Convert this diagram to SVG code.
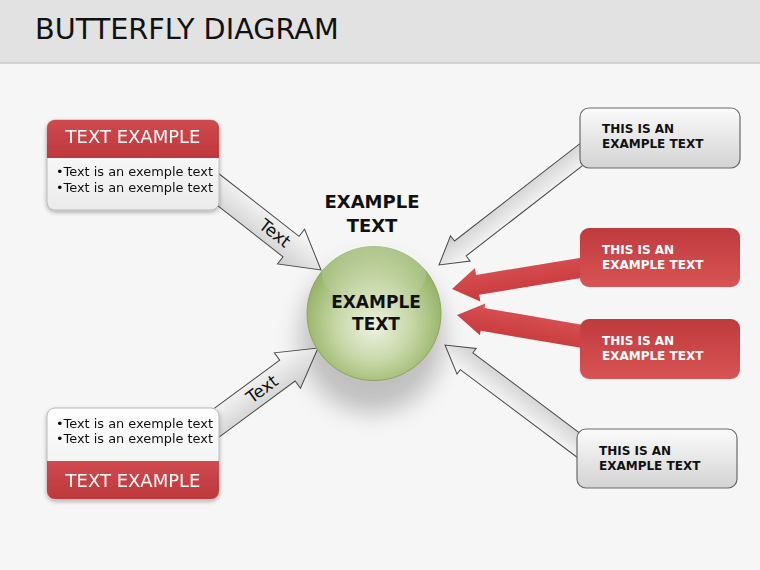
<svg xmlns="http://www.w3.org/2000/svg" width="760" height="570" viewBox="0 0 760 570">
  <defs>
    <linearGradient id="grayArrow" x1="0" y1="0" x2="0" y2="1">
      <stop offset="0" stop-color="#fbfbfb"/>
      <stop offset="1" stop-color="#cdcdcd"/>
    </linearGradient>
    <linearGradient id="redArrow" x1="0" y1="0" x2="0" y2="1">
      <stop offset="0" stop-color="#c8393c"/>
      <stop offset="1" stop-color="#d85253"/>
    </linearGradient>
    <linearGradient id="grayBox" x1="0" y1="0" x2="0" y2="1">
      <stop offset="0" stop-color="#fbfbfb"/>
      <stop offset="1" stop-color="#d3d3d3"/>
    </linearGradient>
    <linearGradient id="redBox" x1="0" y1="0" x2="0" y2="1">
      <stop offset="0" stop-color="#bf3a3d"/>
      <stop offset="1" stop-color="#d85454"/>
    </linearGradient>
    <linearGradient id="redHead" x1="0" y1="0" x2="0" y2="1">
      <stop offset="0" stop-color="#cf4a4e"/>
      <stop offset="1" stop-color="#bd383b"/>
    </linearGradient>
    <linearGradient id="whiteBody" x1="0" y1="0" x2="0" y2="1">
      <stop offset="0" stop-color="#ffffff"/>
      <stop offset="1" stop-color="#ebebeb"/>
    </linearGradient>
    <radialGradient id="ball" cx="0.5" cy="0.56" r="0.55" fx="0.5" fy="0.6">
      <stop offset="0" stop-color="#edf2e1"/>
      <stop offset="0.5" stop-color="#c8d8a8"/>
      <stop offset="1" stop-color="#92b062"/>
    </radialGradient>
    <linearGradient id="ballHi" x1="0" y1="0" x2="0" y2="1">
      <stop offset="0" stop-color="#ffffff" stop-opacity="0.3"/>
      <stop offset="1" stop-color="#ffffff" stop-opacity="0"/>
    </linearGradient>
    <filter id="blurBig" x="-50%" y="-50%" width="200%" height="200%">
      <feGaussianBlur stdDeviation="12"/>
    </filter>
    <filter id="soft" x="-10%" y="-10%" width="120%" height="130%">
      <feGaussianBlur in="SourceAlpha" stdDeviation="2"/>
      <feOffset dy="2" result="b"/>
      <feComponentTransfer><feFuncA type="linear" slope="0.3"/></feComponentTransfer>
      <feMerge><feMergeNode/><feMergeNode in="SourceGraphic"/></feMerge>
    </filter>
  </defs>
  <style>
    .garrow { fill: url(#grayArrow); stroke: #4a4a4a; stroke-width: 1; stroke-linejoin: miter; }
    .rarrow { fill: url(#redArrow); }
    .gbox { fill: url(#grayBox); stroke: #6a6a6a; stroke-width: 1.2; }
    .rbox { fill: url(#redBox); }
    .rtxt { font-family: "DejaVu Sans", Verdana, sans-serif; font-weight: bold; font-size: 12px; }
    .btxt { font-family: "DejaVu Sans", Verdana, sans-serif; font-size: 12.9px; fill: #111; }
    .htxt { font-family: "DejaVu Sans", Verdana, sans-serif; font-size: 18px; fill: #ffffff; text-anchor: middle; }
    .ctxt { font-family: "DejaVu Sans", Verdana, sans-serif; font-weight: bold; fill: #111; text-anchor: middle; }
    .atxt { font-family: "DejaVu Sans", Verdana, sans-serif; font-size: 17px; fill: #111; text-anchor: middle; }
  </style>

  <rect x="0" y="0" width="760" height="570" fill="#f6f6f6"/>

  <g id="header">
    <rect x="0" y="0" width="760" height="62" fill="#e2e2e2"/>
    <rect x="0" y="62" width="760" height="2" fill="#d2d2d2"/>
    <text x="35" y="39" font-family="'DejaVu Sans', Verdana, sans-serif" font-size="28.7" fill="#111">BUTTERFLY DIAGRAM</text>
  </g>

  <ellipse cx="372" cy="337" rx="72" ry="76" fill="#000" opacity="0.22" filter="url(#blurBig)"/>

  <g id="connectors">
    <polygon class="garrow" points="-145,-13 -38,-13 -38,-22 0,0 -38,22 -38,13 -145,13" transform="translate(321,270) rotate(38)"/>
    <polygon class="garrow" points="-140,-13 -38,-13 -38,-22 0,0 -38,22 -38,13 -140,13" transform="translate(318,348) rotate(-36.4)"/>
    <polygon class="garrow" points="-191,-9.5 -27,-9.5 -27,-16 0,0 -27,16 -27,9.5 -191,9.5" transform="translate(439,265) rotate(142.2)"/>
    <polygon class="garrow" points="-178,-10.5 -27,-10.5 -27,-16 0,0 -27,16 -27,10.5 -178,10.5" transform="translate(445,345) rotate(-143.1)"/>
    <polygon class="rarrow" points="-140,-10 -26,-10 -26,-17 0,0 -26,17 -26,10 -140,10" transform="translate(452,289) rotate(170.7)"/>
    <polygon class="rarrow" points="-135,-11.5 -26,-11.5 -26,-16 0,0 -26,16 -26,11.5 -135,11.5" transform="translate(457,315) rotate(-170.3)"/>
    <text class="atxt" transform="translate(275,233) rotate(38)" y="6">Text</text>
    <text class="atxt" transform="translate(262,389) rotate(-36.4)" y="6">Text</text>
  </g>

  <g id="node-center">
    <circle cx="374" cy="313.5" r="67" fill="url(#ball)" stroke="#8aa85a" stroke-width="1"/>
    <ellipse cx="374" cy="275" rx="52" ry="30" fill="url(#ballHi)"/>
    <text class="ctxt" x="376" y="308" font-size="17">EXAMPLE</text>
    <text class="ctxt" x="376" y="330" font-size="17">TEXT</text>
  </g>

  <g id="center-title">
    <text class="ctxt" x="372" y="208" font-size="18">EXAMPLE</text>
    <text class="ctxt" x="372" y="232" font-size="18">TEXT</text>
  </g>

  <g id="node-tl" filter="url(#soft)">
    <rect x="47" y="120" width="172" height="90" rx="8" fill="url(#whiteBody)" stroke="#b9b9b9" stroke-width="1"/>
    <path d="M47,158 V128 A8,8 0 0 1 55,120 H211 A8,8 0 0 1 219,128 V158 Z" fill="url(#redHead)"/>
    <text class="htxt" x="133" y="143">TEXT EXAMPLE</text>
    <text class="btxt" x="56" y="176">•Text is an exemple text</text>
    <text class="btxt" x="56" y="192">•Text is an exemple text</text>
  </g>

  <g id="node-bl" filter="url(#soft)">
    <rect x="47" y="408" width="172" height="91" rx="8" fill="url(#whiteBody)" stroke="#b9b9b9" stroke-width="1"/>
    <path d="M47,461 H219 V491 A8,8 0 0 1 211,499 H55 A8,8 0 0 1 47,491 Z" fill="url(#redHead)"/>
    <text class="btxt" x="56" y="428">•Text is an exemple text</text>
    <text class="btxt" x="56" y="443">•Text is an exemple text</text>
    <text class="htxt" x="133" y="487">TEXT EXAMPLE</text>
  </g>

  <g id="node-r1">
    <rect class="gbox" x="580" y="108" width="160" height="60" rx="9"/>
    <text class="rtxt" x="602" y="133" fill="#111">THIS IS AN</text>
    <text class="rtxt" x="602" y="148" fill="#111">EXAMPLE TEXT</text>
  </g>

  <g id="node-r2">
    <rect class="rbox" x="580" y="228" width="160" height="59" rx="9"/>
    <text class="rtxt" x="602" y="254" fill="#ffffff">THIS IS AN</text>
    <text class="rtxt" x="602" y="269" fill="#ffffff">EXAMPLE TEXT</text>
  </g>

  <g id="node-r3">
    <rect class="rbox" x="580" y="319" width="160" height="60" rx="9"/>
    <text class="rtxt" x="602" y="345" fill="#ffffff">THIS IS AN</text>
    <text class="rtxt" x="602" y="360" fill="#ffffff">EXAMPLE TEXT</text>
  </g>

  <g id="node-r4">
    <rect class="gbox" x="577" y="429" width="160" height="59" rx="9"/>
    <text class="rtxt" x="599" y="455" fill="#111">THIS IS AN</text>
    <text class="rtxt" x="599" y="470" fill="#111">EXAMPLE TEXT</text>
  </g>
</svg>
